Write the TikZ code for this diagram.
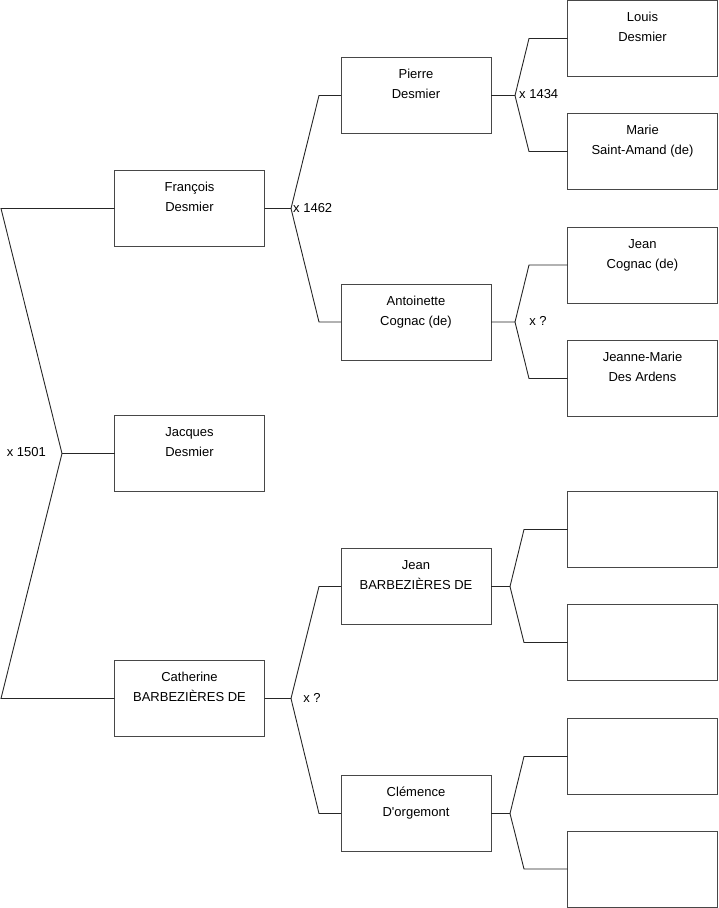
\documentclass[tikz,border=0pt]{standalone}
\usepackage{fontspec}
\setmainfont{Liberation Sans}[Ligatures=TeXOff]
\newcommand{\pbox}[2]{\parbox[t][76pt][t]{150pt}{\centering\fontsize{13pt}{20pt}\selectfont\rule{0pt}{21pt}#1\\#2}}
\begin{document}
\begin{tikzpicture}[x=1pt,y=-1pt,
  person/.style={draw=black!72,line width=1pt,fill=white,inner sep=0pt,outer sep=0pt,anchor=north west},
  conn/.style={draw=black!85,line width=0.9pt,line join=miter},
  mlabel/.style={font=\fontsize{13pt}{14pt}\selectfont,inner sep=0pt}]
\useasboundingbox (0,0) rectangle (719,908);
% generation 1
\node[person] (fran) at (114.5,170.5) {\pbox{François}{Desmier}};
\node[person] (jacq) at (114.5,415.5) {\pbox{Jacques}{Desmier}};
\node[person] (cath) at (114.5,660.5) {\pbox{Catherine}{BARBEZIÈRES DE}};
% generation 2
\node[person] (pier) at (341,57.5) {\pbox{Pierre}{Desmier}};
\node[person] (anto) at (341,284) {\pbox{Antoinette}{Cognac (de)}};
\node[person] (jean) at (341,548.5) {\pbox{Jean}{BARBEZIÈRES DE}};
\node[person] (clem) at (341,775.5) {\pbox{Clémence}{D'orgemont}};
% generation 3
\node[person] (loui) at (567.5,0.5) {\pbox{Louis}{Desmier}};
\node[person] (mari) at (567.5,113.5) {\pbox{Marie}{Saint-Amand (de)}};
\node[person] (jeco) at (567.5,227) {\pbox{Jean}{Cognac (de)}};
\node[person] (jema) at (567.5,340.5) {\pbox{Jeanne-Marie}{Des Ardens}};
\node[person] (e1) at (567.5,491.5) {\pbox{}{}};
\node[person] (e2) at (567.5,604.5) {\pbox{}{}};
\node[person] (e3) at (567.5,718.5) {\pbox{}{}};
\node[person] (e4) at (567.5,831) {\pbox{}{}};
% coordinates
\coordinate (v1) at (62,453.5);
\coordinate (a1) at (1,208.5);
\coordinate (b1) at (1,698.5);
\coordinate (v2) at (291,208.5);
\coordinate (a2) at (319,95.5);
\coordinate (b2) at (319,322);
\coordinate (v3) at (291,698.5);
\coordinate (a3) at (319,586.5);
\coordinate (b3) at (319,813.5);
\coordinate (v4) at (515,95.5);
\coordinate (a4) at (529,38.5);
\coordinate (b4) at (529,151.5);
\coordinate (v5) at (515,322);
\coordinate (a5) at (529,265);
\coordinate (b5) at (529,378.5);
\coordinate (v6) at (510,586.5);
\coordinate (a6) at (524,529.5);
\coordinate (b6) at (524,642.5);
\coordinate (v7) at (510,813.5);
\coordinate (a7) at (524,756.5);
\coordinate (b7) at (524,869);
% connectors
\draw[conn] (fran.west) -- (a1) -- (v1) -- (b1) -- (cath.west);
\draw[conn] (v1) -- (jacq.west);
\draw[conn] (fran.east) -- (v2) -- (a2) -- (pier.west);
\draw[conn] (v2) -- (b2) -- (anto.west);
\draw[conn] (cath.east) -- (v3) -- (a3) -- (jean.west);
\draw[conn] (v3) -- (b3) -- (clem.west);
\draw[conn] (pier.east) -- (v4) -- (a4) -- (loui.west);
\draw[conn] (v4) -- (b4) -- (mari.west);
\draw[conn] (anto.east) -- (v5) -- (a5) -- (jeco.west);
\draw[conn] (v5) -- (b5) -- (jema.west);
\draw[conn] (jean.east) -- (v6) -- (a6) -- (e1.west);
\draw[conn] (v6) -- (b6) -- (e2.west);
\draw[conn] (clem.east) -- (v7) -- (a7) -- (e3.west);
\draw[conn] (v7) -- (b7) -- (e4.west);
% marriage labels
\node[mlabel,anchor=east] (m1) at (46,452) {x 1501};
\node[mlabel,anchor=west] (m2) at (293,208) {x 1462};
\node[mlabel,anchor=west] (m3) at (519,94) {x 1434};
\node[mlabel] (m4) at (538,321) {x ?};
\node[mlabel] (m5) at (312,698) {x ?};
\end{tikzpicture}
\end{document}
